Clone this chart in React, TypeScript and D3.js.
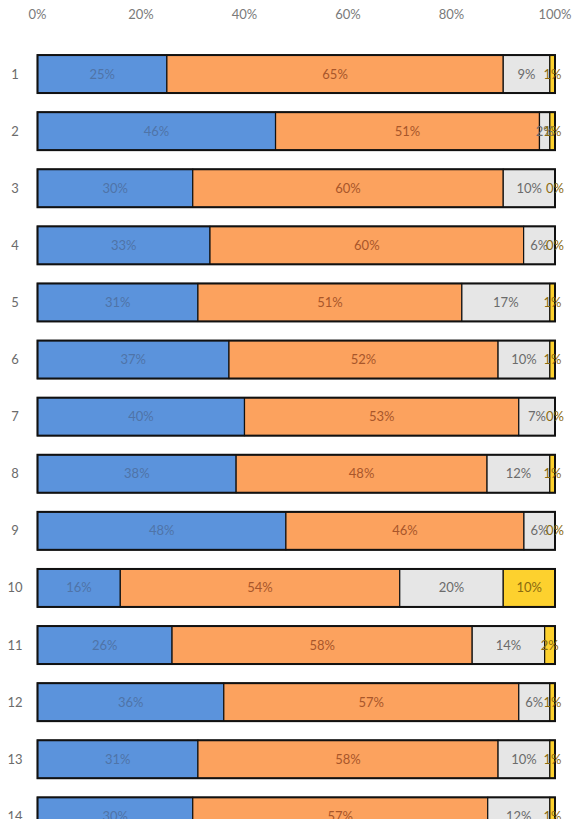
import React from "react";
import * as d3 from "d3";

const rows = ["1","2","3","4","5","6","7","8","9","10","11","12","13","14"];
const seriesA = [25, 46, 30, 33, 31, 37, 40, 38, 48, 16, 26, 36, 31, 30];
const seriesB = [65, 51, 60, 60, 51, 52, 53, 48, 46, 54, 58, 57, 58, 57];
const seriesC = [9, 2, 10, 6, 17, 10, 7, 12, 6, 20, 14, 6, 10, 12];
const seriesD = [1, 1, 0, 0, 1, 1, 0, 1, 0, 10, 2, 1, 1, 1];
const ticks = [0, 0.2, 0.4, 0.6, 0.8, 1];

const keys = ["a", "b", "c", "d"];
const fills = ["#5b93dc", "#fca25e", "#e6e6e6", "#fdd12e"];
const labelColors = ["#4f74a8", "#a8562a", "#6b6b6b", "#8a6a10"];

export default function App() {
  const W = 587, H = 819;
  const table = rows.map((r, i) => ({
    row: r,
    a: seriesA[i],
    b: seriesB[i],
    c: seriesC[i],
    d: seriesD[i],
  }));
  const stacked = d3.stack<any>().keys(keys).offset(d3.stackOffsetExpand)(table);
  const x = d3.scaleLinear().domain([0, 1]).range([37.5, 555]);
  const y = d3.scaleBand().domain(rows).range([45.5, 45.5 + 57.1 * 14]).paddingInner(0.335).paddingOuter(0.1675);
  const font = "Lato, 'Open Sans', sans-serif";

  return (
    <svg width={W} height={H} style={{ position: "absolute", left: 0, top: 0, background: "#fff" }} fontFamily={font}>
      {ticks.map((t) => (
        <text key={t} x={x(t)} y={19} textAnchor="middle" fontSize={13} fill="#7a7a7a">
          {d3.format(".0%")(t)}
        </text>
      ))}
      {rows.map((r) => (
        <text key={"r" + r} x={15} y={(y(r) as number) + y.bandwidth() / 2 + 4.5} textAnchor="middle" fontSize={13} fill="#6b6b6b">
          {r}
        </text>
      ))}
      {stacked.map((s, si) => (
        <g key={s.key}>
          {s.map((d, i) => {
            const x0 = x(d[0]);
            const x1 = x(d[1]);
            const yy = y(rows[i]) as number;
            return (
              <rect key={i} x={x0} y={yy} width={Math.max(0, x1 - x0)} height={y.bandwidth()} fill={fills[si]} stroke="#111" strokeWidth={1.2} />
            );
          })}
        </g>
      ))}
      {rows.map((r) => (
        <rect key={"o" + r} x={x(0)} y={y(r) as number} width={x(1) - x(0)} height={y.bandwidth()} fill="none" stroke="#111" strokeWidth={2} />
      ))}
      {stacked.map((s, si) => (
        <g key={"l" + s.key}>
          {s.map((d, i) => {
            const vals = [seriesA, seriesB, seriesC, seriesD][si];
            const cx = (x(d[0]) + x(d[1])) / 2;
            const yy = (y(rows[i]) as number) + y.bandwidth() / 2 + 4.5;
            return (
              <text key={i} x={cx} y={yy} textAnchor="middle" fontSize={13} fill={labelColors[si]}>
                {vals[i] + "%"}
              </text>
            );
          })}
        </g>
      ))}
    </svg>
  );
}
